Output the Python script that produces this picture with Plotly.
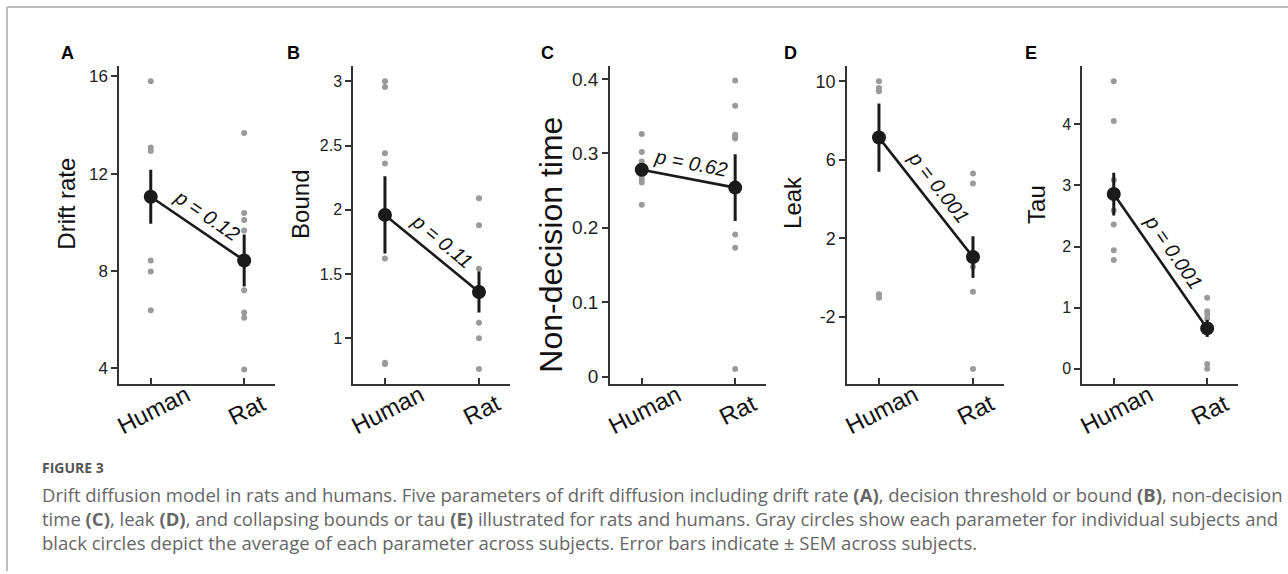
import math
import plotly.graph_objects as go

# ---------------- data ----------------
groups = ["Human", "Rat"]
panel_letters = ["A", "B", "C", "D", "E"]
y_titles = ["Drift rate", "Bound", "Non-decision time", "Leak", "Tau"]
p_labels = ["p = 0.12", "p = 0.11", "p = 0.62", "p = 0.001", "p = 0.001"]

drift_human = [15.8, 13.07, 12.93, 8.43, 7.98, 6.38]
drift_rat = [13.67, 10.38, 10.09, 9.66, 7.2, 6.29, 6.07, 3.95]
drift_mean = [11.05, 8.43]
drift_sem = [1.11, 1.07]

bound_human = [3.0, 2.956, 2.44, 2.36, 1.62, 0.81, 0.80]
bound_rat = [2.09, 1.88, 1.54, 1.12, 1.0, 0.76]
bound_mean = [1.96, 1.36]
bound_sem = [0.30, 0.16]

ndt_human = [0.326, 0.302, 0.289, 0.270, 0.265, 0.261, 0.231]
ndt_rat = [0.398, 0.364, 0.325, 0.322, 0.320, 0.191, 0.173, 0.010]
ndt_mean = [0.278, 0.254]
ndt_sem = [0.006, 0.045]

leak_human = [10.0, 9.66, 9.49, -0.85, -1.04]
leak_rat = [5.30, 4.79, 0.54, -0.73, -4.67]
leak_mean = [7.13, 1.04]
leak_sem = [1.74, 1.06]

tau_human = [4.705, 4.054, 3.09, 2.59, 2.36, 1.94, 1.78]
tau_rat = [1.16, 0.94, 0.89, 0.82, 0.076, 0.0]
tau_mean = [2.86, 0.66]
tau_sem = [0.35, 0.14]

y_tickvals = [
    [4, 8, 12, 16],
    [1, 1.5, 2, 2.5, 3],
    [0, 0.1, 0.2, 0.3, 0.4],
    [-2, 2, 6, 10],
    [0, 1, 2, 3, 4],
]
y_ticktext = [
    ["4", "8", "12", "16"],
    ["1", "1.5", "2", "2.5", "3"],
    ["0", "0.1", "0.2", "0.3", "0.4"],
    ["-2", "2", "6", "10"],
    ["0", "1", "2", "3", "4"],
]

caption_title = "FIGURE 3"
caption_lines = [
    "Drift diffusion model in rats and humans. Five parameters of drift diffusion including drift rate <b>(A)</b>, decision threshold or bound <b>(B)</b>, non-decision",
    "time <b>(C)</b>, leak <b>(D)</b>, and collapsing bounds or tau <b>(E)</b> illustrated for rats and humans. Gray circles show each parameter for individual subjects and",
    "black circles depict the average of each parameter across subjects. Error bars indicate \u00b1 SEM across subjects.",
]

# ---------------- layout / style ----------------
W, H = 1288, 574
panels = [
    (drift_human, drift_rat, drift_mean, drift_sem),
    (bound_human, bound_rat, bound_mean, bound_sem),
    (ndt_human, ndt_rat, ndt_mean, ndt_sem),
    (leak_human, leak_rat, leak_mean, leak_sem),
    (tau_human, tau_rat, tau_mean, tau_sem),
]
x_px = [(119, 275), (353, 510), (610, 766), (847, 1004), (1082, 1238)]
y_ranges = [(3.35, 16.41), (0.644, 3.116), (-0.010, 0.417), (-5.43, 10.76), (-0.25, 4.95)]
x_range = (-0.34, 1.33)
top_px, bot_px = 66.7, 386
letter_x = [67, 293.5, 547.5, 791, 1031]
title_pos = [(66.7, 205, 24), (301, 206, 24), (551, 246, 32), (793, 204, 24), (1037, 206, 24)]
tick_font = [17, 16, 19, 18, 16]

FONT = "Liberation Sans, Arial, sans-serif"
DARK = "#1a1a1a"
GRAY = "#9a9a9a"
AX = "#333333"

fig = go.Figure()
layout = dict(
    width=W, height=H, margin=dict(l=0, r=0, t=0, b=0),
    paper_bgcolor="white", plot_bgcolor="white", showlegend=False,
)
annotations = []
shapes = []

ydom = [1 - bot_px / H, 1 - top_px / H]

for i, (hv, rv, mv, sv) in enumerate(panels):
    n = "" if i == 0 else str(i + 1)
    xa, ya = "x" + n, "y" + n
    # individual subjects
    fig.add_trace(go.Scatter(
        x=[0] * len(hv) + [1] * len(rv), y=hv + rv, mode="markers",
        marker=dict(size=6, color=GRAY), xaxis=xa, yaxis=ya, hoverinfo="skip"))
    # mean line + error bars
    fig.add_trace(go.Scatter(
        x=[0, 1], y=mv, mode="lines+markers",
        line=dict(color=DARK, width=2.6),
        marker=dict(size=14, color=DARK),
        error_y=dict(type="data", array=sv, visible=True, color=DARK, thickness=3, width=0),
        xaxis=xa, yaxis=ya))
    x0, x1 = x_px[i]
    layout["xaxis" + n] = dict(
        domain=[x0 / W, x1 / W], range=list(x_range), anchor=ya,
        showline=True, linecolor=AX, linewidth=1.5, showgrid=False, zeroline=False,
        tickmode="array", tickvals=[0, 1], ticktext=["", ""], ticks="inside",
        ticklen=6, tickcolor=AX, tickwidth=1.5, fixedrange=True)
    layout["yaxis" + n] = dict(
        domain=ydom, range=list(y_ranges[i]), anchor=xa,
        showline=True, linecolor=AX, linewidth=1.5, showgrid=False, zeroline=False,
        tickmode="array", tickvals=y_tickvals[i], ticktext=y_ticktext[i],
        ticks="outside", ticklen=6, tickcolor=AX, tickwidth=1.5,
        tickfont=dict(family=FONT, size=tick_font[i], color="#222"), fixedrange=True)

    # x tick labels (rotated)
    for gi, g in enumerate(groups):
        annotations.append(dict(
            x=gi, y=1 - 412 / H, xref=xa, yref="paper", text=g, showarrow=False,
            textangle=-27, xshift=3, xanchor="center", yanchor="middle",
            font=dict(family=FONT, size=24, color="#111")))

    # p-value along the line
    y0, y1 = y_ranges[i]
    px_per_y = (bot_px - top_px) / (y1 - y0)
    px_per_x = (x1 - x0) / (x_range[1] - x_range[0])
    dy = (mv[0] - mv[1]) * px_per_y
    theta = math.atan2(dy, px_per_x)
    d = 16
    annotations.append(dict(
        x=0.5, y=(mv[0] + mv[1]) / 2, xref=xa, yref=ya,
        text="<i>" + p_labels[i] + "</i>", showarrow=False,
        textangle=math.degrees(theta), xanchor="center", yanchor="middle",
        xshift=d * math.sin(theta), yshift=d * math.cos(theta),
        font=dict(family=FONT, size=20, color="#111")))

    # panel letter
    annotations.append(dict(
        x=letter_x[i] / W, y=1 - 53.5 / H, xref="paper", yref="paper",
        text="<b>" + panel_letters[i] + "</b>", showarrow=False,
        xanchor="center", yanchor="middle",
        font=dict(family=FONT, size=18, color="black")))

    # y title
    tx, ty, tfs = title_pos[i]
    annotations.append(dict(
        x=tx / W, y=1 - ty / H, xref="paper", yref="paper",
        text=y_titles[i], showarrow=False, textangle=-90,
        xanchor="center", yanchor="middle",
        font=dict(family=FONT, size=tfs, color="#111")))

# caption
annotations.append(dict(
    x=40 / W, y=1 - 470 / H, xref="paper", yref="paper", text="<b>" + caption_title + "</b>",
    showarrow=False, xanchor="left", yanchor="middle",
    font=dict(family="Open Sans, sans-serif", size=14, color="#555")))
for li, line in enumerate(caption_lines):
    annotations.append(dict(
        x=40 / W, y=1 - (497 + 24 * li) / H, xref="paper", yref="paper", text=line,
        showarrow=False, xanchor="left", yanchor="middle",
        font=dict(family="Open Sans, sans-serif", size=18.5, color="#666")))

# frame lines
shapes.append(dict(type="line", xref="paper", yref="paper", x0=7 / W, x1=1, y0=1 - 7 / H, y1=1 - 7 / H,
                   line=dict(color="#bdbdbd", width=2)))
shapes.append(dict(type="line", xref="paper", yref="paper", x0=7 / W, x1=7 / W, y0=0, y1=1 - 7 / H,
                   line=dict(color="#bdbdbd", width=2)))

layout["annotations"] = annotations
layout["shapes"] = shapes
fig.update_layout(**layout)
fig.write_html("out.html", config={"displayModeBar": False},
               post_script="document.body.style.margin='0';document.body.style.overflow='hidden';")
